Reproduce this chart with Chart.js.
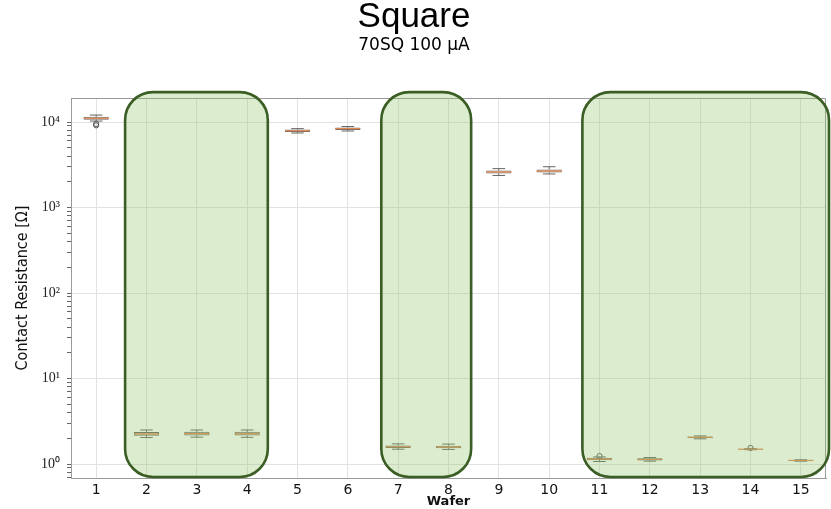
<!DOCTYPE html>
<html>
<head>
<meta charset="utf-8">
<script src="https://cdn.jsdelivr.net/npm/chart.js@4.4.1/dist/chart.umd.min.js"></script>
<style>
  html, body { margin: 0; padding: 0; background: #fff; }
  #wrap { width: 831px; height: 509px; }
</style>
</head>
<body>
<div id="wrap"><canvas id="c" width="831" height="509"></canvas></div>
<script>
// Contact resistance per wafer (ohms), box-plot statistics
const wafers      = ['1','2','3','4','5','6','7','8','9','10','11','12','13','14','15'];
const whiskerLow  = [10270, 2.04, 2.06, 2.05, 7440, 7850, 1.49, 1.48, 2370, 2470, 1.07, 1.08, 1.97, 1.47, 1.08];
const q1          = [10630, 2.14, 2.16, 2.15, 7640, 8060, 1.54, 1.53, 2500, 2570, 1.11, 1.10, 2.00, 1.48, 1.09];
const median      = [11070, 2.25, 2.27, 2.26, 7910, 8360, 1.59, 1.58, 2600, 2670, 1.14, 1.13, 2.05, 1.49, 1.10];
const q3          = [11530, 2.37, 2.38, 2.38, 8170, 8620, 1.65, 1.64, 2710, 2780, 1.18, 1.17, 2.10, 1.50, 1.11];
const whiskerHigh = [12070, 2.50, 2.50, 2.50, 8370, 8860, 1.72, 1.71, 2850, 3000, 1.21, 1.19, 2.13, 1.51, 1.12];
const outliers    = [[9500, 9150], [], [], [], [], [], [], [], [], [], [1.24], [], [], [1.54], []];

// Wafer groups shaded in green (in wafer-position units)
const groupSpans  = [[1.575, 4.41], [6.665, 8.45], [10.66, 15.56]];

const yMin = 0.686, yMax = 19100;
const sup = {'0':'⁰','1':'¹','2':'²','3':'³','4':'⁴','5':'⁵'};
const isDecade = v => Math.abs(Math.log10(v) - Math.round(Math.log10(v))) < 1e-9;

const outlierPoints = [];
outliers.forEach((arr, i) => arr.forEach(v => outlierPoints.push({x: wafers[i], y: v})));

// Whiskers, caps, medians, frame and group shading
const boxPlugin = {
  id: 'boxExtras',
  afterDatasetsDraw(chart) {
    const {ctx, chartArea: a, scales: {x, y}} = chart;
    const step = x.getPixelForValue(1) - x.getPixelForValue(0);
    ctx.save();
    ctx.beginPath();
    ctx.rect(a.left, a.top, a.right - a.left, a.bottom - a.top);
    ctx.clip();
    wafers.forEach((w, i) => {
      const cx = x.getPixelForValue(i);
      const capHalf = step * 0.125, boxHalf = step * 0.25;
      ctx.strokeStyle = '#666';
      ctx.lineWidth = 1;
      ctx.beginPath();
      ctx.moveTo(cx, y.getPixelForValue(q3[i]));
      ctx.lineTo(cx, y.getPixelForValue(whiskerHigh[i]));
      ctx.moveTo(cx, y.getPixelForValue(q1[i]));
      ctx.lineTo(cx, y.getPixelForValue(whiskerLow[i]));
      ctx.moveTo(cx - capHalf, y.getPixelForValue(whiskerHigh[i]));
      ctx.lineTo(cx + capHalf, y.getPixelForValue(whiskerHigh[i]));
      ctx.moveTo(cx - capHalf, y.getPixelForValue(whiskerLow[i]));
      ctx.lineTo(cx + capHalf, y.getPixelForValue(whiskerLow[i]));
      ctx.stroke();
      ctx.strokeStyle = '#e0874e';
      ctx.lineWidth = 1.2;
      ctx.beginPath();
      ctx.moveTo(cx - boxHalf, y.getPixelForValue(median[i]));
      ctx.lineTo(cx + boxHalf, y.getPixelForValue(median[i]));
      ctx.stroke();
    });
    ctx.restore();

    // top and right frame
    ctx.save();
    ctx.strokeStyle = '#9a9a9a';
    ctx.lineWidth = 1;
    ctx.beginPath();
    ctx.moveTo(a.left, a.top + 0.5);
    ctx.lineTo(a.right - 0.5, a.top + 0.5);
    ctx.lineTo(a.right - 0.5, a.bottom);
    ctx.stroke();
    ctx.restore();

    // shaded wafer groups
    const posToPx = p => x.getPixelForValue(0) + (p - 1) * step;
    const top = y.getPixelForValue(22400), bottom = y.getPixelForValue(0.705);
    ctx.save();
    groupSpans.forEach(([p0, p1]) => {
      const l = posToPx(p0), r = posToPx(p1);
      ctx.beginPath();
      ctx.roundRect(l, top, r - l, bottom - top, 28);
      ctx.fillStyle = 'rgba(143,196,107,0.32)';
      ctx.fill();
      ctx.lineWidth = 2.6;
      ctx.strokeStyle = '#3b5e25';
      ctx.stroke();
    });
    ctx.restore();
  }
};

new Chart(document.getElementById('c'), {
  type: 'bar',
  data: {
    labels: wafers,
    datasets: [
      {
        type: 'bar',
        data: wafers.map((w, i) => [q1[i], q3[i]]),
        backgroundColor: 'rgba(200,150,120,0.55)',
        borderColor: '#666',
        borderWidth: 1,
        borderSkipped: false,
        barPercentage: 0.5,
        categoryPercentage: 1,
        order: 2
      },
      {
        type: 'line',
        data: outlierPoints,
        showLine: false,
        pointRadius: 2.6,
        pointBorderColor: '#555',
        pointBackgroundColor: 'rgba(0,0,0,0)',
        pointBorderWidth: 1,
        order: 1
      }
    ]
  },
  options: {
    responsive: false,
    animation: false,
    devicePixelRatio: 1,
    layout: { padding: { left: 0, right: 3, top: 0, bottom: 0 } },
    plugins: {
      legend: { display: false },
      tooltip: { enabled: false },
      title: {
        display: true,
        text: 'Square',
        color: '#000',
        font: { family: 'Liberation Sans', size: 35, weight: 'normal', lineHeight: 1 },
        padding: { top: 0, bottom: 2 }
      },
      subtitle: {
        display: true,
        text: '70SQ 100 μA',
        color: '#000',
        font: { family: 'DejaVu Sans', size: 17, weight: 'normal', lineHeight: 1 },
        padding: { top: 0, bottom: 44 }
      }
    },
    scales: {
      x: {
        type: 'category',
        offset: true,
        grid: { offset: false, color: '#e2e2e2', drawTicks: false },
        border: { color: '#9a9a9a' },
        ticks: { color: '#111', font: { family: 'DejaVu Sans', size: 14 }, padding: 4 },
        title: {
          display: true, text: 'Wafer', color: '#111',
          font: { family: 'DejaVu Sans', size: 13, weight: 'bold', lineHeight: 1.2 },
          padding: { top: 0, bottom: 0 }
        },
        afterFit(s) { s.height = 31; }
      },
      y: {
        type: 'logarithmic',
        min: yMin,
        max: yMax,
        afterBuildTicks(s) {
          const t = [];
          for (let e = -1; e <= 4; e++) {
            for (let m = 1; m <= 9; m++) {
              const v = m * Math.pow(10, e);
              if (v >= yMin && v <= yMax) t.push({ value: v });
            }
          }
          s.ticks = t;
        },
        grid: {
          color: c => (c.tick && isDecade(c.tick.value)) ? '#e2e2e2' : 'rgba(0,0,0,0)',
          tickColor: '#666',
          tickLength: 4
        },
        border: { color: '#9a9a9a' },
        ticks: {
          autoSkip: false,
          color: '#222',
          padding: 7,
          font: { family: 'Liberation Serif', size: 14 },
          callback: v => isDecade(v) ? '10' + sup[String(Math.round(Math.log10(v)))] : ''
        },
        title: {
          display: true,
          text: 'Contact Resistance [Ω]',
          color: '#111',
          font: { family: 'DejaVu Sans Condensed, Liberation Sans Narrow, Liberation Sans', size: 16, lineHeight: 1.2 },
          padding: { top: 13, bottom: 0 }
        },
        afterFit(s) { s.width = 71; }
      }
    }
  },
  plugins: [boxPlugin]
});
</script>
</body>
</html>
